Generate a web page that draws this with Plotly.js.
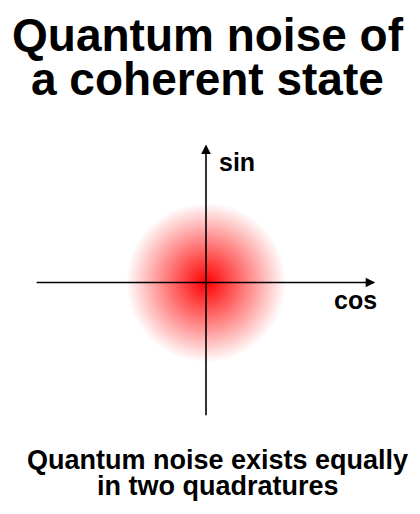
<!DOCTYPE html>
<html>
<head>
<meta charset="utf-8">
<script src="https://cdn.plot.ly/plotly-3.0.1.min.js"></script>
<style>
  html, body { margin: 0; padding: 0; background: #fff; }
  #chart { width: 420px; height: 514px; }
</style>
</head>
<body>
<div id="chart"></div>
<script>
  // coherent state sits at the origin of the phase-space plane
  const stateCos = [0];
  const stateSin = [0];
  const noiseColor = "#ff0000";

  // quadrature axes (data units, 1 unit = noise radius)
  const cosAxis = [-2.19, 2.17];
  const sinAxis = [-1.72, 1.77];
  const cosLabel = "cos";
  const sinLabel = "sin";

  const titleLines = ["Quantum noise of", "a coherent state"];
  const captionLines = ["Quantum noise exists equally", "in two quadratures"];

  const W = 420, H = 514;
  const px = (x) => x / W;
  const py = (y) => 1 - y / H;
  const FONT = "Liberation Sans, Arial, sans-serif";

  function textNote(text, x, y, size, xanchor) {
    return {
      xref: "paper", yref: "paper", x: px(x), y: py(y),
      xanchor: xanchor || "center", yanchor: "middle",
      text: "<b>" + text + "</b>", showarrow: false,
      font: { family: FONT, size: size, color: "#000" },
    };
  }

  function axisArrow(x0, y0, x1, y1) {
    return {
      xref: "x", yref: "y", axref: "x", ayref: "y",
      x: x1, y: y1, ax: x0, ay: y0,
      text: "", showarrow: true,
      arrowhead: 2, arrowsize: 1.2, arrowwidth: 1.6, arrowcolor: "#000",
    };
  }

  const annotations = [
    textNote(titleLines[0], 207.5, 35, 46),
    textNote(titleLines[1], 207.5, 79, 46),
    textNote(captionLines[0], 217.5, 460, 27),
    textNote(captionLines[1], 218, 486, 27),
    textNote(sinLabel, 217, 162, 25, "left"),
    textNote(cosLabel, 355.5, 300, 25),
    axisArrow(cosAxis[0], 0, cosAxis[1], 0),
    axisArrow(0, sinAxis[0], 0, sinAxis[1]),
  ];

  const trace = {
    x: stateCos, y: stateSin,
    type: "scatter", mode: "markers",
    hoverinfo: "skip",
    marker: {
      size: 160,
      color: "#ffffff",
      line: { width: 0 },
      gradient: { type: "radial", color: noiseColor },
    },
    cliponaxis: false,
  };

  const layout = {
    width: W, height: H,
    margin: { l: 0, r: 0, t: 0, b: 0 },
    paper_bgcolor: "#fff", plot_bgcolor: "#fff",
    showlegend: false,
    xaxis: { range: [-206 / 78, 214 / 78], visible: false, fixedrange: true },
    yaxis: { range: [-231.5 / 78, 282.5 / 78], visible: false, fixedrange: true },
    annotations: annotations,
  };

  Plotly.newPlot("chart", [trace], layout, { displayModeBar: false, staticPlot: true });
</script>
</body>
</html>
